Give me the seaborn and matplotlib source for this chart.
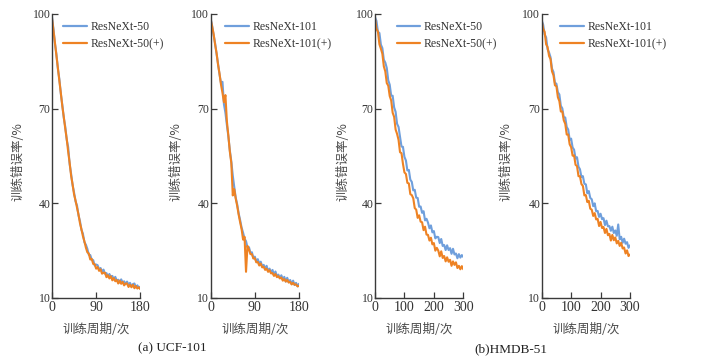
import matplotlib
matplotlib.use("Agg")
import matplotlib.pyplot as plt
import seaborn as sns
import pandas as pd

# ---------------- data ----------------
ucf_epochs = list(range(0, 181, 3))
hmdb_epochs = list(range(0, 301, 5))

ucf_r50 = [99.0, 95.2, 90.6, 87.3, 82.6, 79.4, 74.7, 71.2, 67.1, 64.3, 60.2, 57.8, 52.4, 49.3, 45.7, 43.4,
           40.6, 39.3, 36.2, 34.4, 31.6, 30.4, 27.7, 26.9,
           25.6, 23.7, 23.6, 22.1, 22.0, 20.3, 20.6, 20.4, 19.0, 19.5, 18.3, 19.0, 17.7, 17.9, 16.8, 17.6,
           16.7, 17.0, 15.9, 16.7, 15.5, 15.8, 14.9, 15.9, 14.9, 15.3, 14.4, 15.2, 14.2, 14.8, 13.7, 14.4,
           14.6, 13.4, 14.0, 13.2, 13.6]
ucf_r50p = [98.6, 94.8, 90.9, 86.8, 82.9, 78.8, 75.0, 70.8, 67.4, 63.7, 60.4, 56.3, 52.8, 48.7, 46.0, 42.8,
            40.9, 38.6, 36.5, 33.7, 31.8, 29.6, 28.0, 26.0,
            24.5, 24.1, 22.2, 22.4, 20.8, 20.7, 19.3, 19.8, 18.6, 19.1, 17.7, 18.0, 18.0, 16.6, 17.2, 16.2,
            16.9, 15.6, 16.3, 15.3, 15.7, 14.6, 15.5, 14.5, 15.1, 14.0, 14.6, 14.6, 13.5, 14.2, 13.4, 14.2,
            13.1, 13.8, 13.0, 13.4, 12.8]
ucf_r101 = [98.5, 96.2, 93.3, 90.7, 87.3, 84.2, 80.8, 78.1, 78.5, 71.4, 68.7, 64.8, 61.2, 56.8, 53.3, 48.8,
            45.2, 41.8, 39.7, 36.8, 34.7, 32.3, 30.7, 28.8,
            28.0, 26.0, 26.1, 24.3, 24.5, 22.7, 23.1, 21.5, 22.3, 20.8, 21.5, 20.0, 20.5, 19.3, 20.2, 18.5,
            19.3, 18.1, 18.9, 17.3, 18.4, 16.9, 17.4, 16.3, 17.2, 15.9, 16.7, 15.2, 16.4, 15.0, 15.7, 14.4,
            15.5, 14.1, 14.8, 13.7, 14.5]
ucf_r101p = [98.2, 96.0, 93.6, 90.3, 87.6, 83.9, 81.1, 77.6, 75.0, 72.0, 74.3, 66.0, 61.5, 56.4, 52.8, 42.5,
             44.5, 41.5, 39.2, 36.4, 34.0, 31.8, 28.5, 29.4, 18.3,
             26.5, 25.4, 23.9, 23.9, 22.5, 22.6, 21.3, 21.4, 20.3, 20.9, 19.7, 19.9, 18.9, 19.3, 18.3, 18.8,
             17.8, 17.9, 17.0, 17.6, 16.6, 16.9, 16.2, 16.5, 15.5, 16.0, 15.2, 15.7, 14.9, 15.1, 14.3, 14.8,
             14.2, 14.3, 13.7, 13.8]

hmdb_r50 = [99.0, 97.8, 94.3, 94.0, 90.3, 89.2, 85.5, 84.6, 82.9, 79.0, 77.6, 74.1, 74.1, 70.4, 69.0, 65.2,
            64.2, 61.1, 58.0, 57.9, 54.7, 53.6, 50.4, 50.6, 47.5, 46.8, 44.1, 44.3, 41.8, 41.7, 38.9, 39.0,
            37.0, 37.5, 34.6, 35.1, 33.9, 32.1, 33.0, 30.8, 31.2, 28.9, 29.4, 29.3, 27.4, 28.7, 26.5, 26.8,
            25.2, 26.7, 25.2, 25.8, 24.0, 25.6, 23.8, 24.1, 22.6, 23.9, 22.8, 23.6, 23.0]
hmdb_r50p = [98.5, 95.3, 94.4, 90.4, 89.0, 87.4, 83.4, 81.8, 78.1, 77.3, 74.0, 72.6, 68.7, 67.4, 63.4, 62.0,
             60.1, 56.2, 55.9, 52.5, 49.8, 49.3, 46.5, 46.3, 42.9, 42.6, 41.6, 38.5, 38.0, 35.4, 36.2, 34.2,
             34.0, 31.5, 32.6, 30.1, 30.0, 28.2, 29.1, 27.0, 27.4, 25.0, 25.9, 25.0, 23.2, 24.8, 22.7, 23.3,
             21.6, 22.9, 21.5, 22.1, 20.2, 21.6, 20.5, 21.3, 19.5, 20.2, 19.1, 20.1, 19.1]
hmdb_r101 = [98.0, 96.6, 93.5, 92.6, 88.8, 87.8, 86.3, 82.7, 81.6, 78.2, 77.9, 75.2, 74.5, 70.9, 70.1, 67.3,
             67.2, 64.2, 63.4, 60.2, 60.5, 57.7, 57.0, 54.2, 54.6, 51.6, 50.8, 48.3, 48.6, 46.2, 46.0, 43.2,
             43.9, 41.7, 41.3, 39.1, 40.0, 37.5, 37.6, 35.7, 36.7, 35.0, 35.3, 33.1, 34.5, 32.7, 32.8, 31.3,
             32.6, 30.6, 31.4, 29.7, 33.3, 28.6, 29.4, 27.5, 28.8, 27.2, 27.7, 25.9, 26.7]
hmdb_r101p = [97.8, 95.3, 94.3, 90.4, 89.5, 86.7, 85.7, 81.8, 80.6, 77.4, 77.1, 73.6, 72.4, 69.1, 69.1, 66.3,
              65.2, 61.8, 61.8, 58.7, 57.8, 55.1, 55.2, 52.2, 51.8, 48.6, 48.6, 46.1, 45.5, 42.5, 42.6, 40.4,
              40.8, 38.3, 38.0, 36.0, 36.9, 34.9, 35.1, 32.8, 34.1, 32.2, 32.5, 30.6, 31.9, 29.9, 30.3, 28.2,
              30.0, 28.3, 29.2, 27.3, 28.1, 26.5, 27.5, 25.7, 26.0, 24.1, 25.1, 23.3, 23.8]

panels = [
    (ucf_epochs, ucf_r50, ucf_r50p, "ResNeXt-50", "ResNeXt-50(+)", [0, 90, 180], 180),
    (ucf_epochs, ucf_r101, ucf_r101p, "ResNeXt-101", "ResNeXt-101(+)", [0, 90, 180], 180),
    (hmdb_epochs, hmdb_r50, hmdb_r50p, "ResNeXt-50", "ResNeXt-50(+)", [0, 100, 200, 300], 300),
    (hmdb_epochs, hmdb_r101, hmdb_r101p, "ResNeXt-101", "ResNeXt-101(+)", [0, 100, 200, 300], 300),
]
y_ticks = [10, 40, 70, 100]
x_label = "训练周期/次"
y_label = "训练错误率/%"
captions = ["(a) UCF-101", "(b)HMDB-51"]

# ---------------- style ----------------
sns.set_theme(style="ticks")
plt.rcParams["font.family"] = ["Liberation Serif", "DejaVu Serif"]
cjk = ["Noto Sans CJK SC", "DejaVu Sans"]
blue = "#6f9fdc"
orange = "#ee8223"
txt = "#333333"
spine_c = "#3a3a3a"

fig = plt.figure(figsize=(7.24, 3.61), dpi=100)
W, H = 724.0, 361.0
lefts = [52.0, 210.7, 375.0, 541.7]
ax_w = 88.3
ax_bottom, ax_top = 298.0, 14.0
legend_x = [0.125, 0.162, 0.245, 0.207]
ylabel_off = [27, 28, 25, 29]

for i, (ep, a, b, na, nb, xt, xmax) in enumerate(panels):
    ax = fig.add_axes([lefts[i] / W, 1 - ax_bottom / H, ax_w / W, (ax_bottom - ax_top) / H])
    df = pd.DataFrame({
        "epoch": list(ep) + list(ep),
        "err": list(a) + list(b),
        "model": [na] * len(ep) + [nb] * len(ep),
    })
    sns.lineplot(data=df, x="epoch", y="err", hue="model", palette=[blue, orange],
                 linewidth=1.5, ax=ax, legend=True)
    ax.set_xlim(0, xmax)
    ax.set_ylim(10, 100)
    ax.set_xticks(xt)
    ax.set_yticks(y_ticks)
    for s in ["top", "right"]:
        ax.spines[s].set_visible(False)
    for s in ["left", "bottom"]:
        ax.spines[s].set_color(spine_c)
        ax.spines[s].set_linewidth(1.0)
    ax.tick_params(axis="both", direction="in", length=4, width=0.9, color=spine_c)
    ax.tick_params(axis="y", labelsize=8.5, pad=1, labelcolor=txt)
    ax.tick_params(axis="x", labelsize=10, pad=2.5, labelcolor=txt)
    ax.set_xlabel(x_label, fontsize=9, family=cjk, color="#4a4a4a", labelpad=2)
    ax.set_ylabel(y_label, fontsize=9, family=cjk, color="#4a4a4a")
    ax.yaxis.set_label_coords(-ylabel_off[i] / ax_w, 0.48)
    ax.xaxis.set_label_coords(0.5, -25.0 / 284)
    ax.patch.set_alpha(0)
    leg = ax.legend(loc="upper left", bbox_to_anchor=(legend_x[i], 0.975), frameon=False,
                    fontsize=8.5, handlelength=2.0, handletextpad=0.3, labelspacing=0.45,
                    borderpad=0, borderaxespad=0)
    for t in leg.get_texts():
        t.set_color(txt)
    for l in leg.get_lines():
        l.set_linewidth(1.6)

fig.text(172.5 / W, 1 - 348 / H, captions[0], ha="center", va="center", fontsize=9.5, color="#222222")
fig.text(511 / W, 1 - 349 / H, captions[1], ha="center", va="center", fontsize=9.5, color="#222222")

fig.savefig("out.png", dpi=100)
